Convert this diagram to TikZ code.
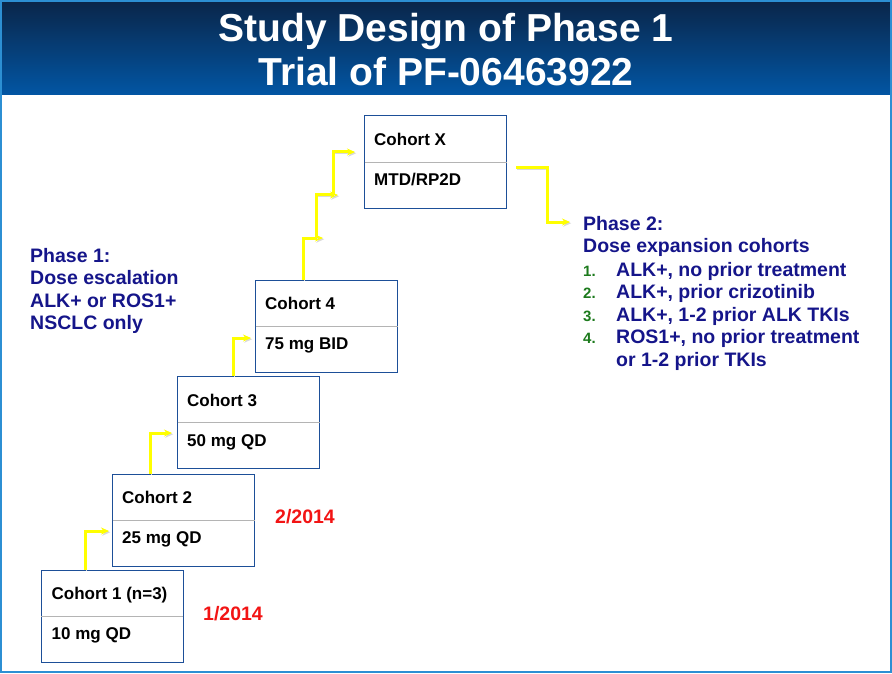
\documentclass[tikz,border=0pt]{standalone}
\usepackage{fontspec}
\setmainfont{Liberation Sans}
\usepackage{tikz}
\usetikzlibrary{arrows.meta}
\definecolor{ctitletop}{HTML}{0A2548}
\definecolor{ctitlebot}{HTML}{0256A4}
\definecolor{cframe}{HTML}{2C8FD3}
\definecolor{cbox}{HTML}{1D4F98}
\definecolor{crule}{HTML}{B4B4B4}
\definecolor{cnavy}{HTML}{15158A}
\definecolor{cgreen}{HTML}{1C7A1C}
\definecolor{cred}{HTML}{F21414}
\definecolor{cyell}{HTML}{FFFF00}
\newcommand{\itemnum}[1]{\makebox[33pt][l]{\color{cgreen}\fontsize{15}{15}\selectfont #1}}

\begin{document}
\begin{tikzpicture}[x=1pt,y=-1pt,
    cohort/.style={draw=cbox,line width=1pt,fill=white,minimum width=142pt,minimum height=92pt,inner sep=0pt},
    boxtext/.style={font=\fontsize{17}{20}\selectfont\bfseries,inner sep=0pt,anchor=base west},
    phase/.style={font=\fontsize{19.5}{22.5}\selectfont\bfseries,text=cnavy,align=left,inner sep=0pt,anchor=north west},
    datelbl/.style={font=\fontsize{19.5}{22.5}\selectfont\bfseries,text=cred,inner sep=0pt,anchor=base west},
    stepto/.style={-{Stealth[length=8pt,width=7pt]},draw=cyell,line width=3pt,
      preaction={draw=black!15,transform canvas={shift={(1.2pt,-1.2pt)}}}}]
    \useasboundingbox (0,0) rectangle (892,674);
    % title band
    \shade[top color=ctitletop,bottom color=ctitlebot] (0,0) rectangle (892,95);
    \draw[cframe,line width=2pt] (1,1) rectangle (891,672);
    \node[font=\fontsize{39}{44}\selectfont\bfseries,text=white,align=center] (title) at (446,50)
      {Study Design of Phase 1\\Trial of PF-06463922};
    % cohort boxes
    \node[cohort] (c1) at (112,616) {};
    \node[cohort] (c2) at (183.5,520) {};
    \node[cohort] (c3) at (248.5,422.5) {};
    \node[cohort] (c4) at (326.5,326) {};
    \node[cohort] (cX) at (435.5,162) {};
    \foreach \c in {c1,c2,c3,c4,cX}
      \draw[crule,line width=0.8pt] ([xshift=0.5pt]\c.west) -- ([xshift=-0.5pt]\c.east);
    \node[boxtext] (c1a) at ([xshift=11pt,yshift=16.5pt]c1.west) {Cohort 1 (n=3)};
    \node[boxtext] (c1b) at ([xshift=11pt,yshift=-23.5pt]c1.west) {10 mg QD};
    \node[boxtext] (c2a) at ([xshift=10pt,yshift=16.5pt]c2.west) {Cohort 2};
    \node[boxtext] (c2b) at ([xshift=10pt,yshift=-23.5pt]c2.west) {25 mg QD};
    \node[boxtext] (c3a) at ([xshift=10pt,yshift=16.5pt]c3.west) {Cohort 3};
    \node[boxtext] (c3b) at ([xshift=10pt,yshift=-23.5pt]c3.west) {50 mg QD};
    \node[boxtext] (c4a) at ([xshift=10pt,yshift=16.5pt]c4.west) {Cohort 4};
    \node[boxtext] (c4b) at ([xshift=10pt,yshift=-23.5pt]c4.west) {75 mg BID};
    \node[boxtext] (cXa) at ([xshift=10pt,yshift=16.5pt]cX.west) {Cohort X};
    \node[boxtext] (cXb) at ([xshift=10pt,yshift=-23.5pt]cX.west) {MTD/RP2D};
    % dates
    \node[datelbl] (d1) at (203,620) {1/2014};
    \node[datelbl] (d2) at (275,523) {2/2014};
    % phase texts
    \node[phase] (ph1) at (30,248) {Phase 1:\\Dose escalation\\ALK+ or ROS1+\\NSCLC only};
    \node[phase] (ph2) at (583,216) {Phase 2:\\Dose expansion cohorts};
    \node[phase] (ph2list) at (583,262) {\itemnum{1.}ALK+, no prior treatment\\
      \itemnum{2.}ALK+, prior crizotinib\\
      \itemnum{3.}ALK+, 1-2 prior ALK TKIs\\
      \itemnum{4.}ROS1+, no prior treatment\\
      \hspace*{33pt}or 1-2 prior TKIs};
    % escalation steps
    \coordinate (j1) at (316,238);
    \coordinate (j2) at (333,195);
    \draw[stepto] ([xshift=-27pt]c1.north) |- ([xshift=-3pt,yshift=-11pt]c2.west);
    \draw[stepto] ([xshift=-33.5pt]c2.north) |- ([xshift=-5pt,yshift=-10.5pt]c3.west);
    \draw[stepto] ([xshift=-15.5pt]c3.north) |- ([xshift=-4pt,yshift=-12pt]c4.west);
    \draw[stepto] ([xshift=-23.5pt]c4.north) |- ([xshift=7pt]j1);
    \draw[stepto] (j1) |- ([xshift=5pt]j2);
    \draw[stepto] (j2) |- ([xshift=-9pt,yshift=10pt]cX.west);
    % on to phase 2
    \draw[stepto] ([xshift=9pt,yshift=-6pt]cX.east) -- ++(31,0) |- ([xshift=-13pt,yshift=-6pt]ph2.north west);
\end{tikzpicture}
\end{document}
